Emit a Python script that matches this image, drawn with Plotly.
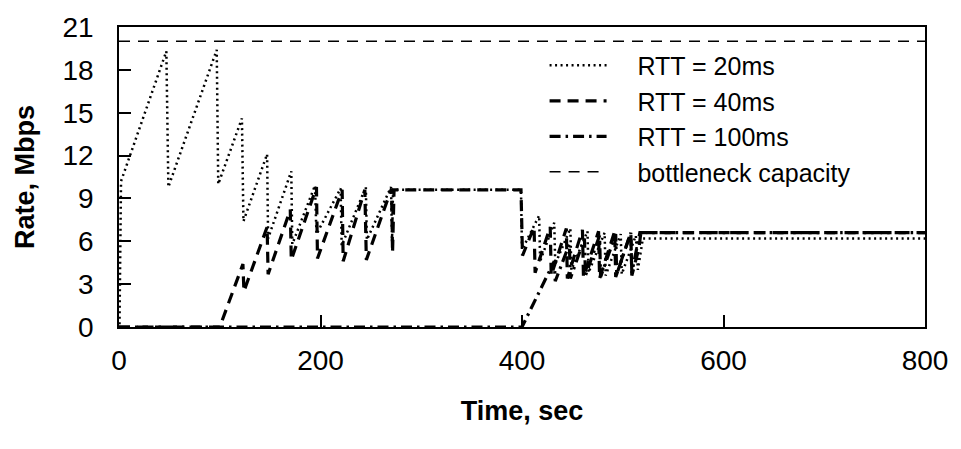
import plotly.graph_objects as go

# ---- data ----
t20 = [0.5, 2, 47, 49, 97, 98.5, 122, 123.5, 147, 148, 171, 172, 194.5, 196, 220, 221,
       245, 246, 270, 271, 272, 399, 400, 417, 418, 432, 433, 448, 449, 465, 466, 482,
       483, 498, 499, 513, 515, 520, 800]
v20 = [0.2, 10.2, 19.3, 9.8, 19.4, 10.0, 14.6, 7.4, 12.1, 6.2, 10.9, 5.8, 9.9, 6.5, 9.7, 5.7,
       9.8, 6.1, 9.8, 6.0, 9.6, 9.6, 5.4, 7.8, 4.6, 7.3, 4.4, 6.9, 4.0, 6.7, 3.8, 6.6,
       3.6, 6.5, 3.7, 6.4, 4.0, 6.2, 6.2]

t40 = [0, 100, 123, 124, 147, 148, 170, 171, 196, 197, 221.5, 222.5, 244, 245.5, 270.5,
       271.5, 273, 399, 400.5, 412, 413, 428, 429, 444, 445, 460, 461, 476, 477, 492, 493,
       508, 509, 516, 518, 800]
v40 = [0, 0, 4.4, 2.5, 7.0, 3.7, 8.2, 4.7, 9.8, 4.8, 9.6, 4.6, 9.6, 4.7, 9.7,
       5.2, 9.6, 9.6, 5.0, 7.0, 3.8, 7.0, 3.6, 6.9, 3.4, 6.8, 3.5, 6.7, 3.4, 6.7, 3.5,
       6.6, 3.6, 5.5, 6.6, 6.6]

t100 = [0, 400, 432, 433, 447, 448, 462, 463, 477, 478, 493, 494, 508, 509, 517, 800]
v100 = [0, 0, 4.6, 3.2, 5.8, 3.4, 6.2, 3.6, 6.4, 3.5, 6.5, 3.7, 6.6, 3.8, 6.6, 6.6]

tcap = [0, 800]
vcap = [20, 20]

names = ["RTT = 20ms", "RTT = 40ms", "RTT = 100ms", "bottleneck capacity"]
xticks = [0, 200, 400, 600, 800]
yticks = [0, 3, 6, 9, 12, 15, 18, 21]

FONT = "Liberation Sans, Arial, sans-serif"
GAP = "\u00a0\u00a0\u00a0\u2009"

fig = go.Figure()
fig.add_trace(go.Scatter(x=t20, y=v20, mode="lines", name=GAP + names[0],
                         line=dict(color="black", width=2.5, dash="2px,3.5px")))
fig.add_trace(go.Scatter(x=t40, y=v40, mode="lines", name=GAP + names[1],
                         line=dict(color="black", width=3.2, dash="11px,7px")))
fig.add_trace(go.Scatter(x=t100, y=v100, mode="lines", name=GAP + names[2],
                         line=dict(color="black", width=3.2, dash="11px,5px,2.5px,5px")))
fig.add_trace(go.Scatter(x=tcap, y=vcap, mode="lines", name=GAP + names[3],
                         line=dict(color="black", width=1.5, dash="11px,8px")))

axis_common = dict(
    showgrid=False, zeroline=False, showline=True, mirror=True,
    linecolor="black", linewidth=1.7, ticks="inside", ticklen=12,
    tickcolor="black", tickwidth=1.5,
    tickfont=dict(family=FONT, size=28, color="black"),
)

fig.update_layout(
    width=961, height=449,
    margin=dict(l=119, r=36, t=20, b=122),
    paper_bgcolor="white", plot_bgcolor="white",
    showlegend=True,
    legend=dict(x=0.528, y=0.948, xanchor="left", yanchor="top",
                bgcolor="rgba(0,0,0,0)", borderwidth=0,
                font=dict(family=FONT, size=25, color="black"),
                itemwidth=57, tracegroupgap=0),
    xaxis=dict(range=[0, 800], tickvals=xticks, ticklabelstandoff=8,
               title=dict(text="<b>Time, sec</b>", standoff=26,
                          font=dict(family=FONT, size=27, color="black")),
               **axis_common),
    yaxis=dict(range=[0, 21], tickvals=yticks, ticklabelstandoff=18,
               title=dict(text="<b>Rate, Mbps</b>", standoff=20,
                          font=dict(family=FONT, size=27, color="black")),
               **axis_common),
)

fig.write_html("out.html")
